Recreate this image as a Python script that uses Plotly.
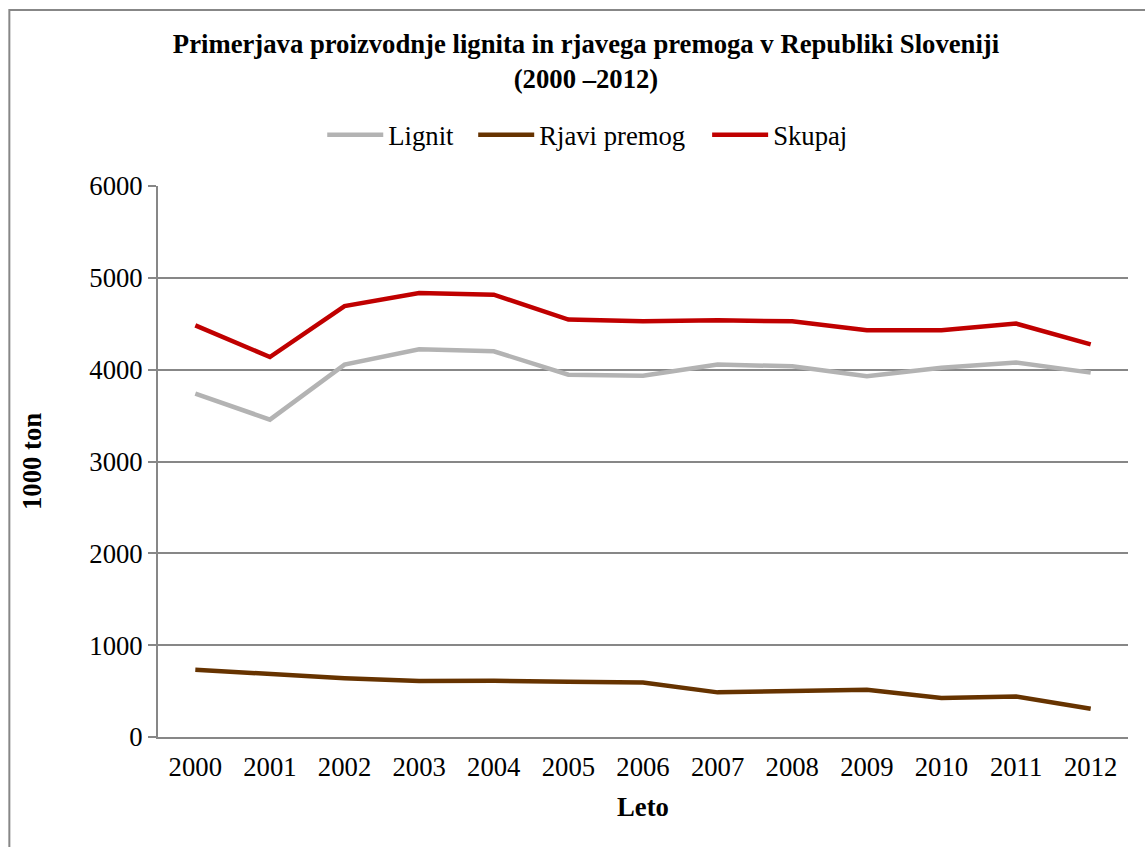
import plotly.graph_objects as go

years = ["2000", "2001", "2002", "2003", "2004", "2005", "2006",
         "2007", "2008", "2009", "2010", "2011", "2012"]
lignit = [3740, 3456, 4055, 4222, 4200, 3946, 3935, 4055, 4037, 3928, 4022, 4077, 3968]
rjavi = [732, 685, 641, 609, 612, 601, 594, 486, 496, 514, 424, 442, 308]
skupaj = [4483, 4138, 4693, 4835, 4817, 4545, 4527, 4537, 4527, 4429, 4429, 4502, 4276]

series_names = ["Lignit", "Rjavi premog", "Skupaj"]
series_colors = ["#b3b3b3", "#663300", "#c00000"]

FONT = "Liberation Serif, Times New Roman, serif"
FS = 26.7
W, H = 1145, 847
L, R, T, B = 157.7, 1128, 186, 737

def px_to_paper_x(px):
    return (px - L) / (R - L)

def px_to_paper_y(py):
    return (B - py) / (B - T)

legend_ids = ["legend", "legend2", "legend3"]
legend_left_px = [322, 473, 707]

fig = go.Figure()
for name, vals, col, lg in zip(series_names, [lignit, rjavi, skupaj], series_colors, legend_ids):
    fig.add_trace(go.Scatter(x=years, y=vals, name=name, mode="lines", legend=lg,
                             line=dict(color=col, width=4.5)))

legend_common = dict(orientation="h", xanchor="left", y=px_to_paper_y(135), yanchor="middle",
                     font=dict(family=FONT, size=FS, color="black"),
                     bgcolor="rgba(0,0,0,0)", itemwidth=56)

layout_legends = {lg: dict(legend_common, x=px_to_paper_x(xp))
                  for lg, xp in zip(legend_ids, legend_left_px)}

fig.update_layout(
    width=W, height=H,
    margin=dict(l=L, r=W - R, t=T, b=H - B, pad=0),
    paper_bgcolor="white", plot_bgcolor="white",
    font=dict(family=FONT, color="black"),
    title=dict(text="<b>Primerjava proizvodnje lignita in rjavega premoga v Republiki Sloveniji<br>(2000 \u20132012)</b>",
               x=586 / W, xref="container", xanchor="center",
               y=1 - 53 / H, yref="container", yanchor="top",
               font=dict(family=FONT, size=FS, color="black")),
    showlegend=True,
    **layout_legends,
)

fig.update_xaxes(type="category", range=[-0.5, 12.5], showgrid=False, showline=True,
                 linecolor="#878787", linewidth=2, ticks="", ticklabelstandoff=5,
                 tickfont=dict(family=FONT, size=FS, color="black"),
                 title=dict(text="<b>Leto</b>", font=dict(family=FONT, size=FS, color="black"),
                            standoff=16))
fig.update_yaxes(range=[0, 6000], dtick=1000, showgrid=True, gridcolor="#878787", gridwidth=2,
                 showline=True, linecolor="#878787", linewidth=2, ticks="outside", ticklen=8,
                 tickcolor="#878787", tickwidth=2,
                 tickfont=dict(family=FONT, size=FS, color="black"),
                 title=dict(text="<b>1000 ton</b>", font=dict(family=FONT, size=FS, color="black"),
                            standoff=40), zeroline=False)

# outer chart border
fig.add_shape(type="rect", xref="paper", yref="paper",
              x0=px_to_paper_x(9), x1=px_to_paper_x(1160),
              y0=px_to_paper_y(860), y1=px_to_paper_y(10),
              line=dict(color="#878787", width=2), fillcolor="rgba(0,0,0,0)", layer="below")

fig.write_html("out.html")
